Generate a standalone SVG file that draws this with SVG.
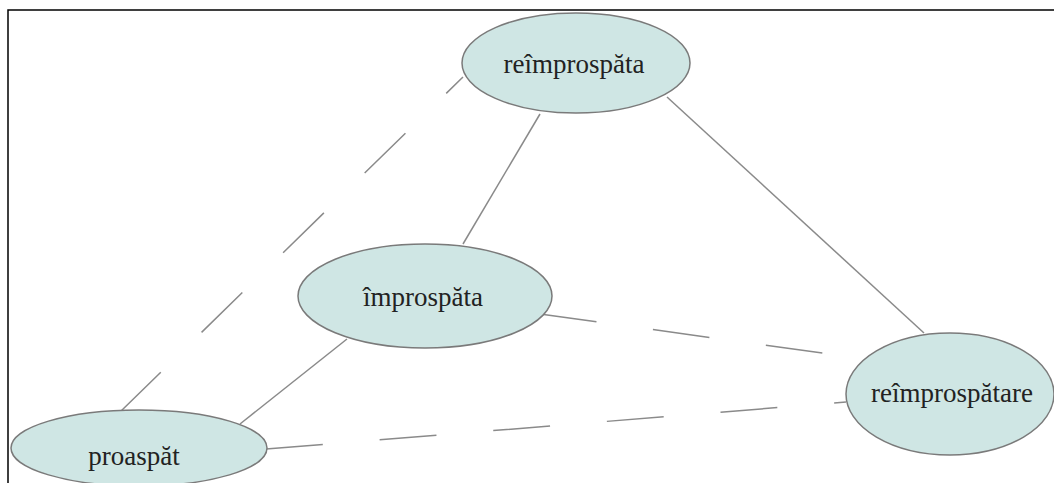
<svg xmlns="http://www.w3.org/2000/svg" width="1054" height="483" viewBox="0 0 1054 483">
<style>
.node ellipse{fill:#cfe6e4;stroke:#7a7a7a;stroke-width:1.5}
.node text{font-family:"Liberation Serif","Times New Roman",serif;font-size:27px;fill:#222;text-anchor:middle}
.edge{stroke:#8a8a8a;stroke-width:1.5;fill:none}
.dash{stroke-dasharray:57 57}
</style>
<rect width="1054" height="483" fill="#fff"/>
<path d="M8 483 V10 H1054" fill="none" stroke="#000" stroke-width="1.5"/>
<g id="connectors">
<line class="edge dash" x1="120" y1="412" x2="463" y2="77"/>
<line class="edge" x1="540" y1="114" x2="463" y2="244"/>
<line class="edge" x1="667" y1="97" x2="924" y2="333"/>
<line class="edge" x1="347" y1="339" x2="240" y2="424"/>
<line class="edge dash" x1="540" y1="314" x2="866" y2="359"/>
<line class="edge dash" x1="266" y1="449" x2="846" y2="402"/>
</g>
<g id="reimprospata" class="node">
<ellipse cx="576" cy="63" rx="114" ry="50"/>
<text x="574" y="73">reîmprospăta</text>
</g>
<g id="improspata" class="node">
<ellipse cx="425" cy="296" rx="127" ry="52"/>
<text x="423" y="306">împrospăta</text>
</g>
<g id="proaspat" class="node">
<ellipse cx="139" cy="448" rx="128" ry="38"/>
<text x="134" y="465">proaspăt</text>
</g>
<g id="reimprospatare" class="node">
<ellipse cx="950" cy="394" rx="104" ry="61"/>
<text x="952" y="402">reîmprospătare</text>
</g>
</svg>
